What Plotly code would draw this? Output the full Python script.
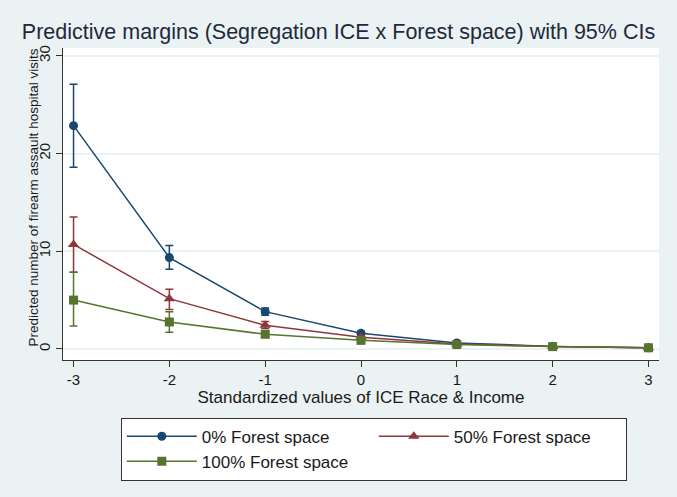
import plotly.graph_objects as go

ice = [-3, -2, -1, 0, 1, 2, 3]

series_names = ["0% Forest space", "50% Forest space", "100% Forest space"]
series_colors = ["#1a476f", "#90353b", "#55752f"]
series_symbols = ["circle", "triangle-up", "square"]

pred_0 = [22.85, 9.35, 3.82, 1.6, 0.62, 0.26, 0.12]
lo_0 = [18.6, 8.15, 3.45, 1.4, 0.5, 0.18, 0.06]
hi_0 = [27.1, 10.6, 4.2, 1.8, 0.74, 0.34, 0.18]

pred_50 = [10.7, 5.15, 2.42, 1.2, 0.52, 0.25, 0.12]
lo_50 = [7.85, 4.05, 2.1, 1.05, 0.42, 0.18, 0.06]
hi_50 = [13.5, 6.1, 2.8, 1.35, 0.62, 0.32, 0.18]

pred_100 = [5.0, 2.76, 1.5, 0.88, 0.45, 0.24, 0.12]
lo_100 = [2.35, 1.7, 1.2, 0.7, 0.32, 0.15, 0.05]
hi_100 = [7.85, 3.8, 1.8, 1.05, 0.58, 0.33, 0.2]

preds = [pred_0, pred_50, pred_100]
los = [lo_0, lo_50, lo_100]
his = [hi_0, hi_50, hi_100]

FONT = "Liberation Sans, Arial, sans-serif"
BG = "#eaf2f3"

fig = go.Figure()
for name, col, sym, p, lo, hi in zip(series_names, series_colors, series_symbols, preds, los, his):
    fig.add_trace(go.Scatter(
        x=ice, y=p, name=name, mode="lines+markers",
        line=dict(color=col, width=1.5),
        marker=dict(symbol=sym, size=9 if sym != "triangle-up" else 10, color=col),
        error_y=dict(type="data", symmetric=False,
                     array=[h - v for h, v in zip(hi, p)],
                     arrayminus=[v - l for v, l in zip(p, lo)],
                     color=col, thickness=1.5, width=4),
    ))

fig.update_layout(
    width=677, height=497,
    paper_bgcolor=BG, plot_bgcolor="white",
    margin=dict(l=63, r=18, t=48, b=137),
    font=dict(family=FONT, color="#1a1a1a"),
    title=dict(text="Predictive margins (Segregation ICE x Forest space) with 95% CIs",
               x=0.5, xanchor="center", xref="container",
               y=1 - 31 / 497, yref="container", yanchor="middle",
               font=dict(size=21.5, color="#1e2a3a", family=FONT)),
    showlegend=True,
    legend=dict(orientation="h", x=0.097, xanchor="left", y=-0.185, yanchor="top",
                bgcolor="white", bordercolor="#333333", borderwidth=1,
                font=dict(size=17, family=FONT, color="#1a1a1a"),
                entrywidth=167, itemwidth=70, traceorder="normal"),
    annotations=[dict(text="Predicted number of firearm assault hospital visits",
                      xref="paper", yref="paper", x=-0.0503, y=0.521,
                      xanchor="center", yanchor="middle", textangle=-90,
                      showarrow=False,
                      font=dict(size=13.5, family=FONT, color="#1a1a1a"))],
)

fig.update_xaxes(
    range=[-3.11, 3.11], tickvals=ice, ticktext=[str(v) for v in ice],
    showgrid=False, zeroline=False,
    showline=True, linecolor="#333333", linewidth=1,
    ticks="outside", ticklen=6, tickcolor="#333333", tickwidth=1,
    tickfont=dict(size=15, family=FONT, color="#1a1a1a"),
    title=dict(text="Standardized values of ICE Race & Income", standoff=2,
               font=dict(size=17, family=FONT, color="#1a1a1a")),
)
fig.update_yaxes(
    range=[-1.13, 30.8], tickvals=[0, 10, 20, 30],
    showgrid=True, gridcolor=BG, gridwidth=1.5, zeroline=False,
    showline=True, linecolor="#333333", linewidth=1,
    ticks="outside", ticklen=6, tickcolor="#333333", tickwidth=1,
    tickangle=-90,
    tickfont=dict(size=15, family=FONT, color="#1a1a1a"),
)

fig.write_html("out.html")
